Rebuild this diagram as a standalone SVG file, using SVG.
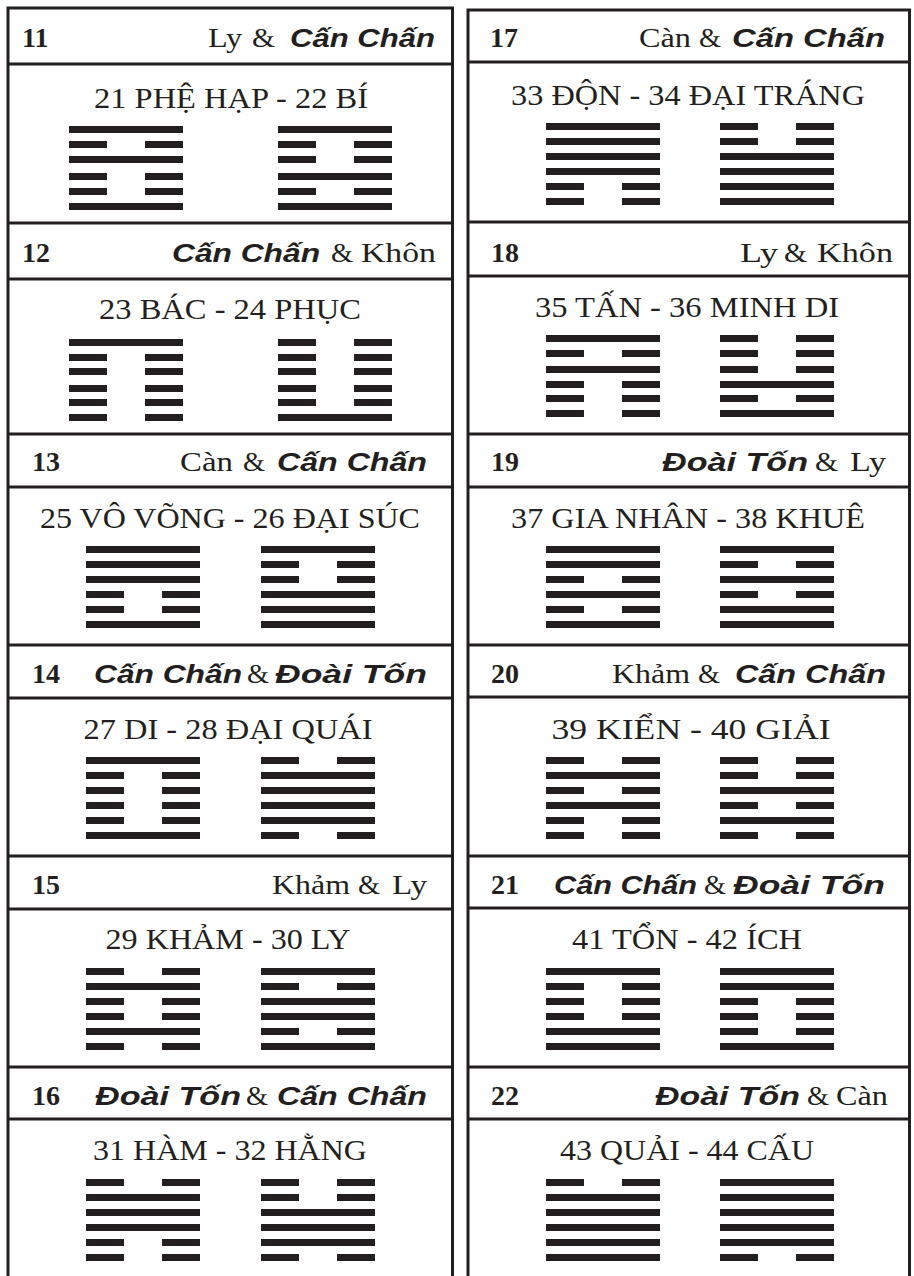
<svg xmlns="http://www.w3.org/2000/svg" xmlns:xlink="http://www.w3.org/1999/xlink" width="914" height="1276" viewBox="0 0 914 1276">
<style>
.b{stroke:#231f20;stroke-width:3;fill:none}
.num{font-family:"Liberation Serif","Times New Roman",serif;font-weight:bold;font-size:28px;fill:#231f20}
.sr{font-family:"Liberation Serif","Times New Roman",serif;font-size:28px;fill:#231f20}
.ss{font-family:"Liberation Sans",Arial,sans-serif;font-weight:bold;font-style:italic;font-size:26px;fill:#231f20}
.t{font-family:"Liberation Serif","Times New Roman",serif;font-size:30px;fill:#231f20;text-anchor:middle}
.h{fill:#231f20}
</style>
<defs>
<rect id="Y" class="h" width="114" height="7"/>
<g id="N" class="h"><rect width="38" height="7"/><rect x="76" width="38" height="7"/></g>
</defs>
<rect width="914" height="1276" fill="#ffffff"/>
<g id="frame" class="b">
<path d="M8,1276V8H452.5V1276"/>
<path d="M8,64H452.5M8,223H452.5M8,279H452.5M8,434H452.5M8,487H452.5M8,645H452.5M8,698H452.5M8,856H452.5M8,909H452.5M8,1067H452.5M8,1119H452.5"/>
<path d="M468,1276V10H909.5V1276"/>
<path d="M468,62H909.5M468,222H909.5M468,276H909.5M468,434H909.5M468,487H909.5M468,645H909.5M468,697H909.5M468,856H909.5M468,908H909.5M468,1067H909.5M468,1119H909.5"/>
</g>

<g id="p11">
<text class="num" x="22" y="47">11</text>
<text class="sr" x="208" y="47" textLength="34" lengthAdjust="spacingAndGlyphs">Ly</text>
<text class="sr" x="252" y="47" textLength="23" lengthAdjust="spacingAndGlyphs">&amp;</text>
<text class="ss" x="290" y="47" textLength="145" lengthAdjust="spacingAndGlyphs">Cấn Chấn</text>
<text class="t" x="231" y="108" textLength="274" lengthAdjust="spacingAndGlyphs">21 PHỆ HẠP - 22 BÍ</text>
<use href="#Y" x="69" y="126"/><use href="#N" x="69" y="141"/><use href="#Y" x="69" y="156"/><use href="#N" x="69" y="173"/><use href="#N" x="69" y="188"/><use href="#Y" x="69" y="203"/>
<use href="#Y" x="278" y="126"/><use href="#N" x="278" y="141"/><use href="#N" x="278" y="156"/><use href="#Y" x="278" y="173"/><use href="#N" x="278" y="188"/><use href="#Y" x="278" y="203"/>
</g>

<g id="p12">
<text class="num" x="22" y="262">12</text>
<text class="ss" x="172" y="262" textLength="148" lengthAdjust="spacingAndGlyphs">Cấn Chấn</text>
<text class="sr" x="331" y="262" textLength="22" lengthAdjust="spacingAndGlyphs">&amp;</text>
<text class="sr" x="361" y="262" textLength="75" lengthAdjust="spacingAndGlyphs">Khôn</text>
<text class="t" x="230" y="319" textLength="262" lengthAdjust="spacingAndGlyphs">23 BÁC - 24 PHỤC</text>
<use href="#Y" x="69" y="339"/><use href="#N" x="69" y="354"/><use href="#N" x="69" y="368"/><use href="#N" x="69" y="385"/><use href="#N" x="69" y="399"/><use href="#N" x="69" y="414"/>
<use href="#N" x="278" y="339"/><use href="#N" x="278" y="354"/><use href="#N" x="278" y="368"/><use href="#N" x="278" y="385"/><use href="#N" x="278" y="399"/><use href="#Y" x="278" y="414"/>
</g>

<g id="p13">
<text class="num" x="32" y="471">13</text>
<text class="sr" x="180" y="471" textLength="53" lengthAdjust="spacingAndGlyphs">Càn</text>
<text class="sr" x="243" y="471" textLength="22" lengthAdjust="spacingAndGlyphs">&amp;</text>
<text class="ss" x="277" y="471" textLength="150" lengthAdjust="spacingAndGlyphs">Cấn Chấn</text>
<text class="t" x="230" y="528" textLength="380" lengthAdjust="spacingAndGlyphs">25 VÔ VÕNG - 26 ĐẠI SÚC</text>
<use href="#Y" x="86" y="546"/><use href="#Y" x="86" y="561"/><use href="#Y" x="86" y="576"/><use href="#N" x="86" y="591"/><use href="#N" x="86" y="606"/><use href="#Y" x="86" y="621"/>
<use href="#Y" x="261" y="546"/><use href="#N" x="261" y="561"/><use href="#N" x="261" y="576"/><use href="#Y" x="261" y="591"/><use href="#Y" x="261" y="606"/><use href="#Y" x="261" y="621"/>
</g>

<g id="p14">
<text class="num" x="32" y="683">14</text>
<text class="ss" x="94" y="683" textLength="148" lengthAdjust="spacingAndGlyphs">Cấn Chấn</text>
<text class="sr" x="247" y="683" textLength="22" lengthAdjust="spacingAndGlyphs">&amp;</text>
<text class="ss" x="275" y="683" textLength="152" lengthAdjust="spacingAndGlyphs">Đoài Tốn</text>
<text class="t" x="228" y="739" textLength="289" lengthAdjust="spacingAndGlyphs">27 DI - 28 ĐẠI QUÁI</text>
<use href="#Y" x="86" y="757"/><use href="#N" x="86" y="772"/><use href="#N" x="86" y="787"/><use href="#N" x="86" y="802"/><use href="#N" x="86" y="817"/><use href="#Y" x="86" y="832"/>
<use href="#N" x="261" y="757"/><use href="#Y" x="261" y="772"/><use href="#Y" x="261" y="787"/><use href="#Y" x="261" y="802"/><use href="#Y" x="261" y="817"/><use href="#N" x="261" y="832"/>
</g>

<g id="p15">
<text class="num" x="32" y="894">15</text>
<text class="sr" x="272" y="894" textLength="78" lengthAdjust="spacingAndGlyphs">Khảm</text>
<text class="sr" x="358" y="894" textLength="22" lengthAdjust="spacingAndGlyphs">&amp;</text>
<text class="sr" x="392" y="894" textLength="35" lengthAdjust="spacingAndGlyphs">Ly</text>
<text class="t" x="228" y="949" textLength="245" lengthAdjust="spacingAndGlyphs">29 KHẢM - 30 LY</text>
<use href="#N" x="86" y="968"/><use href="#Y" x="86" y="983"/><use href="#N" x="86" y="998"/><use href="#N" x="86" y="1013"/><use href="#Y" x="86" y="1028"/><use href="#N" x="86" y="1043"/>
<use href="#Y" x="261" y="968"/><use href="#N" x="261" y="983"/><use href="#Y" x="261" y="998"/><use href="#Y" x="261" y="1013"/><use href="#N" x="261" y="1028"/><use href="#Y" x="261" y="1043"/>
</g>

<g id="p16">
<text class="num" x="32" y="1105">16</text>
<text class="ss" x="95" y="1105" textLength="146" lengthAdjust="spacingAndGlyphs">Đoài Tốn</text>
<text class="sr" x="246" y="1105" textLength="22" lengthAdjust="spacingAndGlyphs">&amp;</text>
<text class="ss" x="277" y="1105" textLength="150" lengthAdjust="spacingAndGlyphs">Cấn Chấn</text>
<text class="t" x="230" y="1160" textLength="274" lengthAdjust="spacingAndGlyphs">31 HÀM - 32 HẰNG</text>
<use href="#N" x="86" y="1179"/><use href="#Y" x="86" y="1194"/><use href="#Y" x="86" y="1209"/><use href="#Y" x="86" y="1224"/><use href="#N" x="86" y="1239"/><use href="#N" x="86" y="1254"/>
<use href="#N" x="261" y="1179"/><use href="#N" x="261" y="1194"/><use href="#Y" x="261" y="1209"/><use href="#Y" x="261" y="1224"/><use href="#Y" x="261" y="1239"/><use href="#N" x="261" y="1254"/>
</g>

<g id="p17">
<text class="num" x="490" y="47">17</text>
<text class="sr" x="639" y="47" textLength="52" lengthAdjust="spacingAndGlyphs">Càn</text>
<text class="sr" x="699" y="47" textLength="22" lengthAdjust="spacingAndGlyphs">&amp;</text>
<text class="ss" x="732" y="47" textLength="153" lengthAdjust="spacingAndGlyphs">Cấn Chấn</text>
<text class="t" x="688" y="105" textLength="354" lengthAdjust="spacingAndGlyphs">33 ĐỘN - 34 ĐẠI TRÁNG</text>
<use href="#Y" x="546" y="123"/><use href="#Y" x="546" y="138"/><use href="#Y" x="546" y="153"/><use href="#Y" x="546" y="168"/><use href="#N" x="546" y="183"/><use href="#N" x="546" y="198"/>
<use href="#N" x="720" y="123"/><use href="#N" x="720" y="138"/><use href="#Y" x="720" y="153"/><use href="#Y" x="720" y="168"/><use href="#Y" x="720" y="183"/><use href="#Y" x="720" y="198"/>
</g>

<g id="p18">
<text class="num" x="491" y="262">18</text>
<text class="sr" x="740" y="262" textLength="38" lengthAdjust="spacingAndGlyphs">Ly</text>
<text class="sr" x="784" y="262" textLength="23" lengthAdjust="spacingAndGlyphs">&amp;</text>
<text class="sr" x="817" y="262" textLength="76" lengthAdjust="spacingAndGlyphs">Khôn</text>
<text class="t" x="687" y="317" textLength="304" lengthAdjust="spacingAndGlyphs">35 TẤN - 36 MINH DI</text>
<use href="#Y" x="546" y="335"/><use href="#N" x="546" y="350"/><use href="#Y" x="546" y="366"/><use href="#N" x="546" y="381"/><use href="#N" x="546" y="395"/><use href="#N" x="546" y="410"/>
<use href="#N" x="720" y="335"/><use href="#N" x="720" y="350"/><use href="#N" x="720" y="366"/><use href="#Y" x="720" y="381"/><use href="#N" x="720" y="395"/><use href="#Y" x="720" y="410"/>
</g>

<g id="p19">
<text class="num" x="491" y="471">19</text>
<text class="ss" x="662" y="471" textLength="146" lengthAdjust="spacingAndGlyphs">Đoài Tốn</text>
<text class="sr" x="815" y="471" textLength="23" lengthAdjust="spacingAndGlyphs">&amp;</text>
<text class="sr" x="850" y="471" textLength="36" lengthAdjust="spacingAndGlyphs">Ly</text>
<text class="t" x="688" y="528" textLength="354" lengthAdjust="spacingAndGlyphs">37 GIA NHÂN - 38 KHUÊ</text>
<use href="#Y" x="546" y="546"/><use href="#Y" x="546" y="561"/><use href="#N" x="546" y="576"/><use href="#Y" x="546" y="591"/><use href="#N" x="546" y="606"/><use href="#Y" x="546" y="621"/>
<use href="#Y" x="720" y="546"/><use href="#N" x="720" y="561"/><use href="#Y" x="720" y="576"/><use href="#N" x="720" y="591"/><use href="#Y" x="720" y="606"/><use href="#Y" x="720" y="621"/>
</g>

<g id="p20">
<text class="num" x="491" y="683">20</text>
<text class="sr" x="612" y="683" textLength="78" lengthAdjust="spacingAndGlyphs">Khảm</text>
<text class="sr" x="698" y="683" textLength="22" lengthAdjust="spacingAndGlyphs">&amp;</text>
<text class="ss" x="735" y="683" textLength="151" lengthAdjust="spacingAndGlyphs">Cấn Chấn</text>
<text class="t" x="691" y="739" textLength="279" lengthAdjust="spacingAndGlyphs">39 KIỂN - 40 GIẢI</text>
<use href="#N" x="546" y="757"/><use href="#Y" x="546" y="772"/><use href="#N" x="546" y="787"/><use href="#Y" x="546" y="802"/><use href="#N" x="546" y="817"/><use href="#N" x="546" y="832"/>
<use href="#N" x="720" y="757"/><use href="#N" x="720" y="772"/><use href="#Y" x="720" y="787"/><use href="#N" x="720" y="802"/><use href="#Y" x="720" y="817"/><use href="#N" x="720" y="832"/>
</g>

<g id="p21">
<text class="num" x="491" y="894">21</text>
<text class="ss" x="554" y="894" textLength="143" lengthAdjust="spacingAndGlyphs">Cấn Chấn</text>
<text class="sr" x="704" y="894" textLength="22" lengthAdjust="spacingAndGlyphs">&amp;</text>
<text class="ss" x="733" y="894" textLength="152" lengthAdjust="spacingAndGlyphs">Đoài Tốn</text>
<text class="t" x="687" y="949" textLength="230" lengthAdjust="spacingAndGlyphs">41 TỔN - 42 ÍCH</text>
<use href="#Y" x="546" y="968"/><use href="#N" x="546" y="983"/><use href="#N" x="546" y="998"/><use href="#N" x="546" y="1013"/><use href="#Y" x="546" y="1028"/><use href="#Y" x="546" y="1043"/>
<use href="#Y" x="720" y="968"/><use href="#Y" x="720" y="983"/><use href="#N" x="720" y="998"/><use href="#N" x="720" y="1013"/><use href="#N" x="720" y="1028"/><use href="#Y" x="720" y="1043"/>
</g>

<g id="p22">
<text class="num" x="491" y="1105">22</text>
<text class="ss" x="655" y="1105" textLength="145" lengthAdjust="spacingAndGlyphs">Đoài Tốn</text>
<text class="sr" x="807" y="1105" textLength="22" lengthAdjust="spacingAndGlyphs">&amp;</text>
<text class="sr" x="836" y="1105" textLength="52" lengthAdjust="spacingAndGlyphs">Càn</text>
<text class="t" x="687" y="1160" textLength="254" lengthAdjust="spacingAndGlyphs">43 QUẢI - 44 CẤU</text>
<use href="#N" x="546" y="1179"/><use href="#Y" x="546" y="1194"/><use href="#Y" x="546" y="1209"/><use href="#Y" x="546" y="1224"/><use href="#Y" x="546" y="1239"/><use href="#Y" x="546" y="1254"/>
<use href="#Y" x="720" y="1179"/><use href="#Y" x="720" y="1194"/><use href="#Y" x="720" y="1209"/><use href="#Y" x="720" y="1224"/><use href="#Y" x="720" y="1239"/><use href="#N" x="720" y="1254"/>
</g>
</svg>
